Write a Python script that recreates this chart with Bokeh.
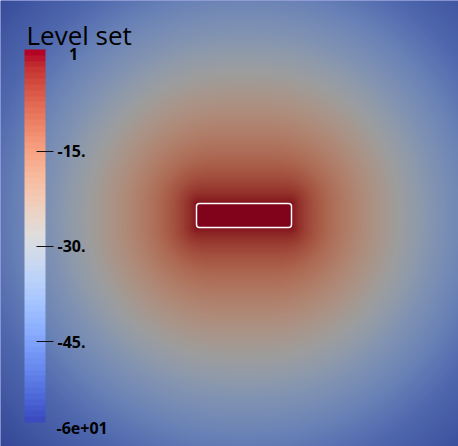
import numpy as np
from bokeh.plotting import figure
from bokeh.models import (Range1d, LinearColorMapper, ColorBar, FixedTicker, Label,
                          PrintfTickFormatter, AllLabels)
from bokeh.embed import file_html
from bokeh.resources import INLINE

# ---------------- data ----------------
title_text = "Level set"
level_min = -57.7
level_max = 1.0
tick_values = [-15, -30, -45]
top_label = "1"
bottom_label = "-6e+01"

# zero level-set interface (rectangle), domain units
rect_left = [196.0]
rect_right = [291.0]
rect_bottom = [219.0]
rect_top = [243.0]

# level value vs distance from the interface
profile_dist = [0, 10, 25, 50, 80, 120, 180, 260, 350, 450]
profile_level = [0, -3, -7, -12.5, -18, -25, -36, -48, -56, -57.7]

# domain shown
x_lo, x_hi = 0.0, 458.0
y_lo, y_hi = 0.0, 446.0

# ---------------- colormap (Cool to Warm) ----------------
cw = [(59,76,192),(68,90,204),(77,104,215),(87,117,225),(98,130,234),(108,142,241),
      (119,154,247),(130,165,251),(141,176,254),(152,185,255),(163,194,255),(174,201,253),
      (184,208,249),(194,213,244),(204,217,238),(213,219,230),(221,221,221),(229,216,209),
      (236,211,197),(241,204,185),(245,196,173),(247,187,160),(247,177,148),(247,166,135),
      (244,154,123),(241,141,111),(236,127,99),(229,112,88),(222,96,77),(213,80,66),
      (203,62,56),(192,40,47),(180,4,38)]
cw = np.array(cw, dtype=float)
cpos = np.linspace(0, 1, len(cw))

def make_palette(n, shade=1.0):
    t = np.linspace(0, 1, n)
    out = []
    for v in t:
        rgb = [np.interp(v, cpos, cw[:, k]) * shade for k in range(3)]
        out.append("#%02x%02x%02x" % tuple(int(round(min(255, c))) for c in rgb))
    return out

bar_palette = make_palette(64)
field_palette = make_palette(256, 0.71)

# ---------------- field ----------------
nx, ny = 458, 446
xs = np.linspace(x_lo + 0.5, x_hi - 0.5, nx)
ys = np.linspace(y_lo + 0.5, y_hi - 0.5, ny)
X, Y = np.meshgrid(xs, ys)
cx = (rect_left[0] + rect_right[0]) / 2
cy = (rect_bottom[0] + rect_top[0]) / 2
hw = (rect_right[0] - rect_left[0]) / 2
hh = (rect_top[0] - rect_bottom[0]) / 2
ax = np.abs(X - cx)
ay = np.abs(Y - cy)
d0 = np.hypot(np.maximum(ax - hw, 0), np.maximum(ay - hh, 0))
shrink = np.exp(-d0 / 100.0)
s = np.hypot(np.maximum(ax - hw * shrink, 0), np.maximum(ay - hh * shrink, 0))
level = np.interp(s, profile_dist, profile_level)
level[(ax <= hw) & (ay <= hh)] = level_max

# ---------------- figure ----------------
p = figure(width=458, height=446, output_backend="svg", toolbar_location=None,
           x_range=Range1d(x_lo, x_hi), y_range=Range1d(y_lo, y_hi),
           min_border=0, x_axis_location=None, y_axis_location=None)
p.grid.visible = False
p.outline_line_color = None
p.background_fill_color = "#3b4cc0"

field_mapper = LinearColorMapper(palette=field_palette, low=level_min, high=level_max)
p.image(image=[level], x=x_lo, y=y_lo, dw=x_hi - x_lo, dh=y_hi - y_lo,
        color_mapper=field_mapper)

p.quad(left=rect_left, right=rect_right, bottom=rect_bottom, top=rect_top,
       fill_alpha=0, line_color="white", line_width=1.5, border_radius=3)

bar_mapper = LinearColorMapper(palette=bar_palette, low=level_min, high=level_max)
cb = ColorBar(color_mapper=bar_mapper, ticker=FixedTicker(ticks=tick_values),
              formatter=PrintfTickFormatter(format="%d."),
              major_label_policy=AllLabels(),
              orientation="vertical", width=21, height=373, location=(24, 24),
              padding=0, margin=0, background_fill_alpha=0, border_line_color=None,
              bar_line_color=None, major_tick_in=9, major_tick_out=8,
              major_tick_line_color="#111111", major_label_text_font="Open Sans",
              major_label_text_font_style="bold", major_label_text_font_size="16px",
              major_label_text_color="#000000", label_standoff=4)
p.add_layout(cb, "center")

p.add_layout(Label(x=26, y=412, text=title_text, text_font="Open Sans",
                   text_font_size="26px", text_color="#000000", text_baseline="alphabetic"))
p.add_layout(Label(x=68.5, y=393, text=top_label, text_font="Open Sans", text_font_style="bold",
                   text_font_size="16px", text_color="#000000", text_baseline="alphabetic"))
p.add_layout(Label(x=56, y=19, text=bottom_label, text_font="Open Sans", text_font_style="bold",
                   text_font_size="16px", text_color="#000000", text_baseline="alphabetic"))

open("out.html", "w").write(file_html(p, INLINE))
